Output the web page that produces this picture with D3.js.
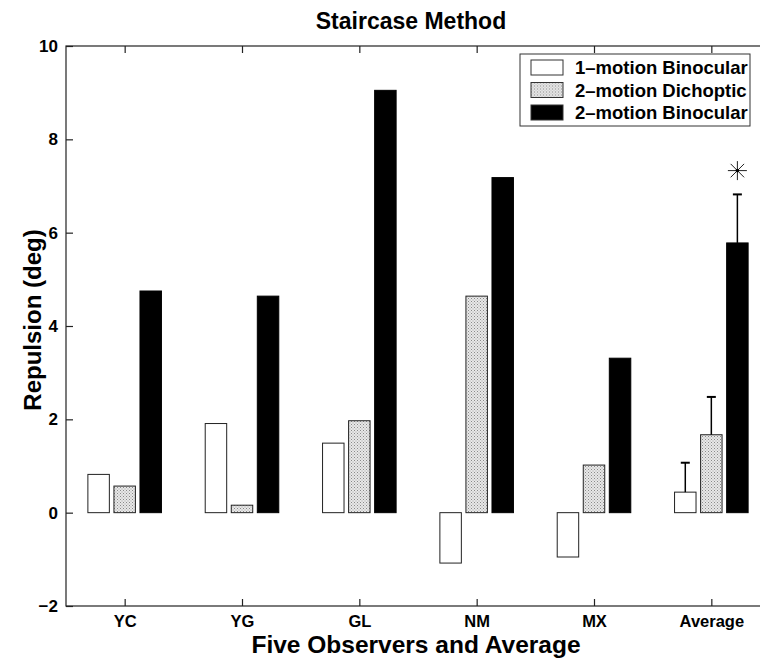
<!DOCTYPE html>
<html>
<head>
<meta charset="utf-8">
<script src="https://cdn.jsdelivr.net/npm/d3@7.9.0/dist/d3.min.js"></script>
<style>
  body { margin: 0; background: #fff; }
  svg { font-family: "Liberation Sans", Arial, Helvetica, sans-serif; }
</style>
</head>
<body>
<svg id="chart" width="760" height="659"></svg>
<script>
// data
const observers = ["YC", "YG", "GL", "NM", "MX", "Average"];
const seriesNames = ["1\u2013motion Binocular", "2\u2013motion Dichoptic", "2\u2013motion Binocular"];
const oneMotionBino = [0.82, 1.91, 1.49, -1.08, -0.95, 0.44];
const twoMotionDicho = [0.57, 0.16, 1.97, 4.64, 1.02, 1.67];
const twoMotionBino = [4.75, 4.64, 9.05, 7.18, 3.31, 5.78];
// error bar tops for the Average group only
const avgErrTop = [1.07, 2.48, 6.82];
const starValue = 7.33;
const yTicks = [-2, 0, 2, 4, 6, 8, 10];

const svg = d3.select("#chart");
let margin = { top: 46, right: -10, bottom: 53, left: 66 };
let width = 760 - margin.left - margin.right;
let height = 659 - margin.top - margin.bottom;

// stipple pattern for the dichoptic bars
const defs = svg.append("defs");
const pat = defs.append("pattern")
    .attr("id", "stipple")
    .attr("width", 3).attr("height", 3)
    .attr("patternUnits", "userSpaceOnUse");
pat.append("rect").attr("width", 3).attr("height", 3).attr("fill", "#e8e8e8");
pat.append("rect").attr("x", 0).attr("y", 0).attr("width", 1).attr("height", 1).attr("fill", "#8a8a8a");
pat.append("rect").attr("x", 1.5).attr("y", 1.5).attr("width", 1).attr("height", 1).attr("fill", "#a0a0a0");

const fills = ["#fff", "url(#stipple)", "#000"];
const seriesData = [oneMotionBino, twoMotionDicho, twoMotionBino];

let g = svg.append("g").attr("transform", `translate(${margin.left},${margin.top})`);

let xScale = d3.scaleLinear().domain([0.5, 6.5]).range([0, width]);
let yScale = d3.scaleLinear().domain([-2, 10]).range([height, 0]);

const pitch = 0.222;
const barW = 0.183;

// bars
seriesData.forEach((vals, s) => {
  g.selectAll(".bar-" + s)
    .data(vals)
    .enter().append("rect")
      .attr("class", "bar-" + s)
      .attr("x", (d, i) => xScale(i + 1 + (s - 1) * pitch - barW / 2))
      .attr("width", xScale(0.5 + barW) - xScale(0.5))
      .attr("y", d => yScale(Math.max(0, d)))
      .attr("height", d => Math.abs(yScale(d) - yScale(0)))
      .attr("fill", fills[s])
      .attr("stroke", s === 2 ? "#000" : "#222")
      .attr("stroke-width", 1);
});

// error bars on the Average group
avgErrTop.forEach((top, s) => {
  const cx = xScale(6 + (s - 1) * pitch);
  const base = seriesData[s][5];
  g.append("line")
    .attr("x1", cx).attr("x2", cx)
    .attr("y1", yScale(base)).attr("y2", yScale(top))
    .attr("stroke", "#000").attr("stroke-width", 1.5);
  g.append("line")
    .attr("x1", cx - 4.5).attr("x2", cx + 4.5)
    .attr("y1", yScale(top)).attr("y2", yScale(top))
    .attr("stroke", "#000").attr("stroke-width", 2);
});

// asterisk above the 2-motion binocular average
const starX = xScale(6 + pitch), starY = yScale(starValue);
const starG = g.append("g").attr("transform", `translate(${starX},${starY})`);
d3.range(4).forEach(k => {
  const a = k * Math.PI / 4;
  starG.append("line")
    .attr("x1", -9.5 * Math.cos(a)).attr("y1", -9.5 * Math.sin(a))
    .attr("x2", 9.5 * Math.cos(a)).attr("y2", 9.5 * Math.sin(a))
    .attr("stroke", "#222").attr("stroke-width", 1);
});
starG.append("circle").attr("r", 1.8).attr("fill", "#000");

// frame and axes (ticks point inward)
g.append("rect")
  .attr("x", 0).attr("y", 0).attr("width", width).attr("height", height)
  .attr("fill", "none").attr("stroke", "#222").attr("stroke-width", 1.2);

let yAxisGroup = g.append("g");
yAxisGroup.call(d3.axisLeft(yScale).tickValues(yTicks).tickSize(-7).tickPadding(8).tickFormat(d => d < 0 ? "\u2212" + Math.abs(d) : d));
let xAxisGroup = g.append("g").attr("transform", `translate(0,${height})`);
xAxisGroup.call(d3.axisBottom(xScale).tickValues(d3.range(1, 7)).tickSize(-7).tickFormat(d => observers[d - 1]));
let xTopGroup = g.append("g");
xTopGroup.call(d3.axisTop(xScale).tickValues(d3.range(1, 7)).tickSize(-7).tickFormat(""));

[yAxisGroup, xAxisGroup, xTopGroup].forEach(ax => {
  ax.select(".domain").remove();
  ax.selectAll(".tick line").attr("stroke", "#222").attr("stroke-width", 1.2);
  ax.selectAll("text")
    .attr("font-size", "17px")
    .attr("font-weight", "bold")
    .attr("fill", "#000")
    .attr("font-family", "Liberation Sans, Arial, sans-serif");
});
// x tick labels sit with baseline just above the axis title
xAxisGroup.selectAll("text").attr("font-size", "16.5px").attr("y", 21).attr("dy", 0);

// title and axis names
svg.append("text")
  .attr("x", 411).attr("y", 29)
  .attr("text-anchor", "middle")
  .attr("font-size", "23px").attr("font-weight", "bold")
  .text("Staircase Method");
svg.append("text")
  .attr("x", 416).attr("y", 653)
  .attr("text-anchor", "middle")
  .attr("font-size", "24.5px").attr("font-weight", "bold")
  .text("Five Observers and Average");
svg.append("text")
  .attr("transform", "rotate(-90)")
  .attr("x", -320).attr("y", 41)
  .attr("text-anchor", "middle")
  .attr("font-size", "24px").attr("font-weight", "bold")
  .text("Repulsion (deg)");

// legend
const legend = svg.append("g").attr("transform", "translate(520,54)");
legend.append("rect")
  .attr("width", 230).attr("height", 72)
  .attr("fill", "#fff").attr("stroke", "#333").attr("stroke-width", 1);
seriesNames.forEach((name, i) => {
  const row = legend.append("g").attr("transform", `translate(11, ${13 + i * 22.5 - 7})`);
  row.append("rect")
    .attr("width", 32).attr("height", 15)
    .attr("fill", fills[i]).attr("stroke", "#333").attr("stroke-width", 1);
  row.append("text")
    .attr("x", 44).attr("y", 14)
    .attr("font-size", "18.5px").attr("font-weight", "bold")
    .text(name);
});
</script>
</body>
</html>
